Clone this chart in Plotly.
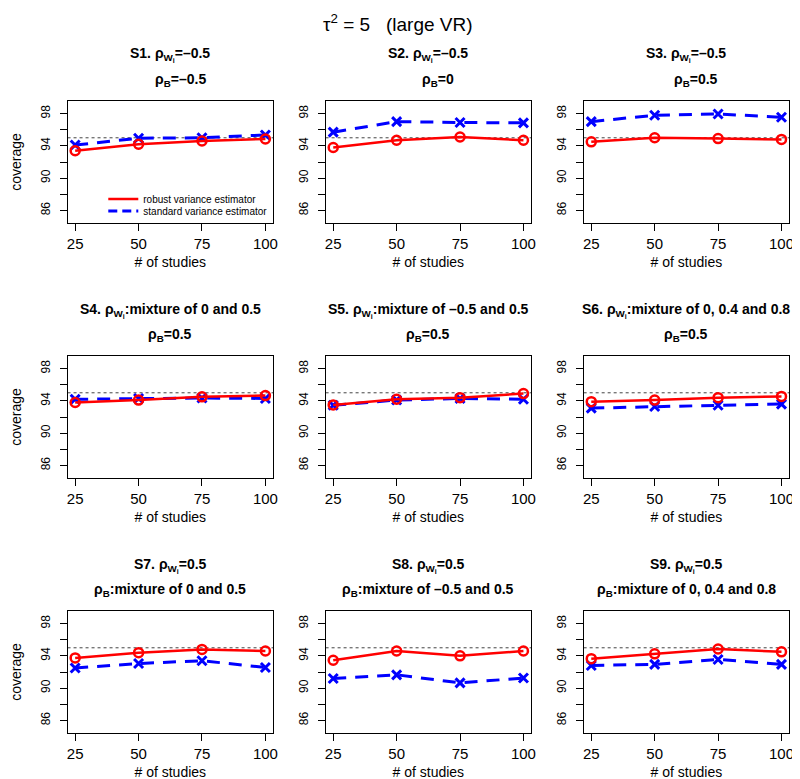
import plotly.graph_objects as go

W, H = 800, 779

n_studies = [25, 50, 75, 100]
panel_line1 = [
    "S1. ρ<sub>W<sub>i</sub></sub>=–0.5", "S2. ρ<sub>W<sub>i</sub></sub>=–0.5", "S3. ρ<sub>W<sub>i</sub></sub>=–0.5",
    "S4. ρ<sub>W<sub>i</sub></sub>:mixture of 0 and 0.5", "S5. ρ<sub>W<sub>i</sub></sub>:mixture of –0.5 and 0.5",
    "S6. ρ<sub>W<sub>i</sub></sub>:mixture of 0, 0.4 and 0.8",
    "S7. ρ<sub>W<sub>i</sub></sub>=0.5", "S8. ρ<sub>W<sub>i</sub></sub>=0.5", "S9. ρ<sub>W<sub>i</sub></sub>=0.5",
]
panel_line2 = [
    "ρ<sub>B</sub>=–0.5", "ρ<sub>B</sub>=0", "ρ<sub>B</sub>=0.5",
    "ρ<sub>B</sub>=0.5", "ρ<sub>B</sub>=0.5", "ρ<sub>B</sub>=0.5",
    "ρ<sub>B</sub>:mixture of 0 and 0.5", "ρ<sub>B</sub>:mixture of –0.5 and 0.5",
    "ρ<sub>B</sub>:mixture of 0, 0.4 and 0.8",
]
robust = [
    [93.4, 94.2, 94.6, 94.85],
    [93.8, 94.7, 95.1, 94.7],
    [94.5, 95.0, 94.9, 94.8],
    [93.8, 94.1, 94.5, 94.65],
    [93.5, 94.2, 94.4, 94.9],
    [93.9, 94.1, 94.4, 94.55],
    [93.75, 94.4, 94.8, 94.6],
    [93.45, 94.6, 94.0, 94.6],
    [93.65, 94.25, 94.85, 94.5],
]
standard = [
    [94.1, 94.95, 95.0, 95.35],
    [95.7, 97.0, 96.9, 96.85],
    [97.0, 97.8, 97.95, 97.55],
    [94.2, 94.3, 94.35, 94.3],
    [93.45, 94.1, 94.3, 94.2],
    [93.1, 93.3, 93.45, 93.6],
    [92.5, 93.05, 93.4, 92.55],
    [91.2, 91.65, 90.65, 91.25],
    [92.8, 92.95, 93.55, 92.95],
]
nominal = 95
y_tickvals = [86, 88, 90, 92, 94, 96, 98]
y_ticktext = ["86", "", "90", "", "94", "", "98"]
x_range = [22, 103]
y_range = [84.44, 99.56]

# layout geometry (pixels)
col_left = [59, 319, 579]
col_w = 207
row_top = [93, 348, 603]
row_h = 122
line2_shift = [10, 0, 0]  # horizontal offset of second title line per row

FONT = "Liberation Sans, Arial, Helvetica, sans-serif"
fig = go.Figure()
layout = dict(
    width=W, height=H, margin=dict(l=0, r=0, t=0, b=0),
    paper_bgcolor="white", plot_bgcolor="white", showlegend=True,
    font=dict(family=FONT, color="black"),
)
annotations = []
shapes = []

for i in range(9):
    r, c = divmod(i, 3)
    k = "" if i == 0 else str(i + 1)
    xa, ya = "x" + k, "y" + k
    x0 = col_left[c] / W
    x1 = (col_left[c] + col_w) / W
    y1 = 1 - row_top[r] / H
    y0 = 1 - (row_top[r] + row_h) / H
    axcommon = dict(showgrid=False, zeroline=False, showline=True, mirror=True,
                    linecolor="black", linewidth=1, ticks="outside", ticklen=7,
                    tickcolor="black", tickwidth=1)
    layout["xaxis" + k] = dict(domain=[x0, x1], range=x_range, anchor=ya,
                               tickvals=n_studies, tickfont=dict(size=15, family=FONT),
                               ticklabelstandoff=0,
                               title=dict(text="# of studies", font=dict(size=14, family=FONT), standoff=6),
                               **axcommon)
    layout["yaxis" + k] = dict(domain=[y0, y1], range=y_range, anchor=xa,
                               tickvals=y_tickvals, ticktext=y_ticktext, tickangle=-90,
                               tickfont=dict(size=12, family=FONT), ticklabelstandoff=5,
                               title=dict(text="coverage" if c == 0 else "", font=dict(size=14, family=FONT), standoff=15),
                               **axcommon)
    fig.add_trace(go.Scatter(
        x=n_studies, y=standard[i], xaxis=xa, yaxis=ya, mode="lines+markers",
        line=dict(color="#0000FF", width=3, dash="13px,9px"),
        marker=dict(symbol="x-thin-open", size=9, line=dict(color="#0000FF", width=3)),
        showlegend=False, cliponaxis=False))
    fig.add_trace(go.Scatter(
        x=n_studies, y=robust[i], xaxis=xa, yaxis=ya, mode="lines+markers",
        line=dict(color="#FF0000", width=2.5),
        marker=dict(symbol="circle-open", size=9, line=dict(color="#FF0000", width=2.5)),
        showlegend=False, cliponaxis=False))
    shapes.append(dict(type="line", xref=xa + " domain", yref=ya, x0=0, x1=1, y0=nominal, y1=nominal,
                       line=dict(color="#444444", width=1, dash="dot"), layer="below"))
    cx = (x0 + x1) / 2
    annotations.append(dict(text="<b>" + panel_line1[i] + "</b>", x=cx, y=1 - (row_top[r] - 46) / H,
                            xref="paper", yref="paper", showarrow=False, xanchor="center", yanchor="middle",
                            font=dict(size=14, family=FONT)))
    annotations.append(dict(text="<b>" + panel_line2[i] + "</b>", x=cx + line2_shift[r] / W,
                            y=1 - (row_top[r] - 21) / H,
                            xref="paper", yref="paper", showarrow=False, xanchor="center", yanchor="middle",
                            font=dict(size=14, family=FONT)))

# legend entries (line samples only)
fig.add_trace(go.Scatter(x=[None], y=[None], mode="lines", name="robust variance estimator",
                         line=dict(color="#FF0000", width=2.5), legend="legend"))
fig.add_trace(go.Scatter(x=[None], y=[None], mode="lines", name="standard variance estimator",
                         line=dict(color="#0000FF", width=3, dash="9px,5px"), legend="legend2"))
legfont = dict(size=10, family=FONT)
layout["legend"] = dict(x=95 / W, y=1 - 191 / H, xanchor="left", yanchor="middle",
                        bgcolor="rgba(0,0,0,0)", font=legfont, itemwidth=30)
layout["legend2"] = dict(x=95 / W, y=1 - 203 / H, xanchor="left", yanchor="middle",
                         bgcolor="rgba(0,0,0,0)", font=legfont, itemwidth=30)

annotations.append(dict(text="τ<sup>2</sup> = 5\u00a0\u00a0\u00a0(large VR)", x=392 / W, y=1 - 15 / H,
                        xref="paper", yref="paper", showarrow=False, xanchor="center", yanchor="middle",
                        font=dict(size=19, family=FONT)))
layout["annotations"] = annotations
layout["shapes"] = shapes
fig.update_layout(**layout)
fig.write_html("out.html")
